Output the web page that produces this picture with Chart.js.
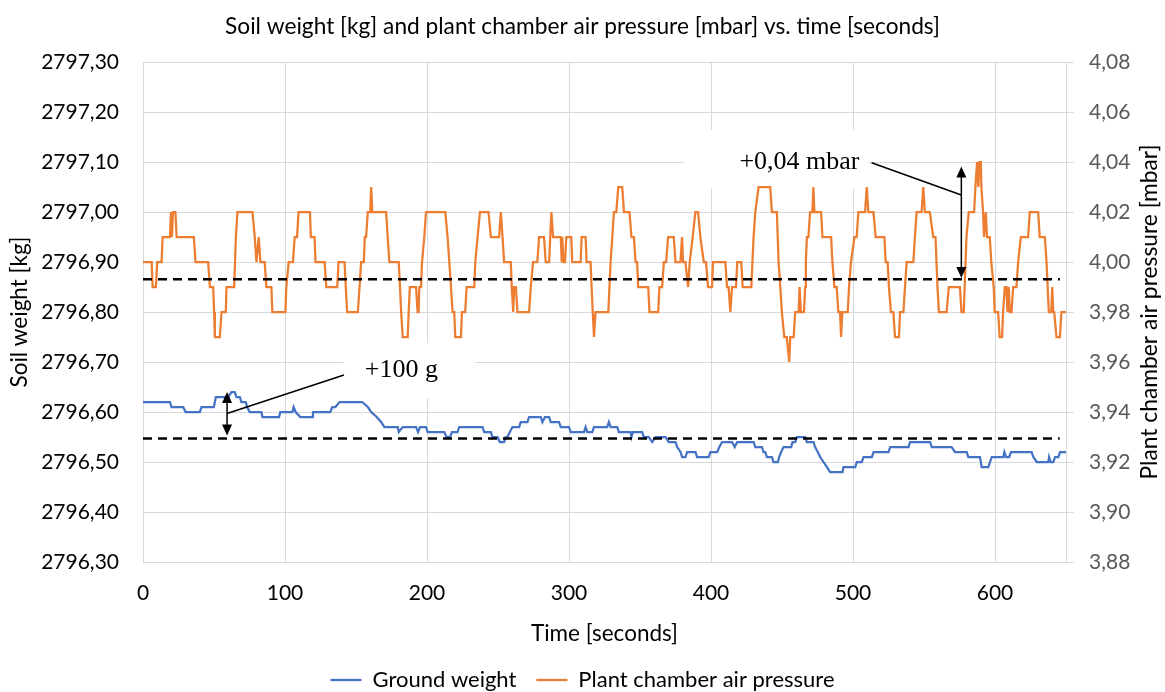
<!DOCTYPE html>
<html>
<head>
<meta charset="utf-8">
<script src="https://cdn.jsdelivr.net/npm/chart.js@4"></script>
<style>
html, body { margin: 0; padding: 0; background: #fff; }
</style>
</head>
<body>
<canvas id="chart" width="1165" height="692"></canvas>
<script>
// readings as [time in seconds, value]
var weightReadings = [
	[0,2796.62],[19,2796.62],[20.1,2796.61],[28.3,2796.61],[30,2796.60],[40,2796.60],[41.2,2796.61],[49.9,2796.61],
	[51.3,2796.63],[56.4,2796.63],[60,2796.63],[62.3,2796.64],[64.6,2796.64],[65.8,2796.63],[68.2,2796.63],[69.3,2796.62],
	[72.4,2796.62],[73.3,2796.61],[75.2,2796.60],[83.4,2796.60],[84.1,2796.59],[95.8,2796.59],[96.7,2796.60],[105.2,2796.60],
	[106.1,2796.61],[107.5,2796.60],[110.8,2796.59],[119.2,2796.59],[119.7,2796.60],[131.9,2796.60],[133.3,2796.61],[135.5,2796.61],
	[138.4,2796.62],[154.4,2796.62],[158.3,2796.61],[160.7,2796.60],[164.6,2796.59],[167.7,2796.58],[170,2796.57],[179.4,2796.57],
	[180.1,2796.56],[182.9,2796.57],[192.3,2796.57],[193.7,2796.56],[195.1,2796.57],[199.3,2796.57],[200.5,2796.56],[212.2,2796.56],
	[213.8,2796.55],[216.2,2796.55],[217.6,2796.56],[221.5,2796.56],[222.7,2796.57],[239.1,2796.57],[240.3,2796.56],[245,2796.56],
	[246.1,2796.55],[249.7,2796.55],[251.3,2796.54],[254.3,2796.54],[255.5,2796.55],[256.7,2796.55],[258.3,2796.56],[260.2,2796.57],
	[264.9,2796.57],[266,2796.58],[270.7,2796.58],[271.9,2796.59],[280.1,2796.59],[281.3,2796.58],[283.1,2796.59],[286,2796.59],
	[287.1,2796.58],[293,2796.58],[294.2,2796.57],[300,2796.57],[301.2,2796.56],[310.6,2796.56],[311.7,2796.57],[312.9,2796.56],
	[316.4,2796.56],[317.6,2796.57],[326.9,2796.57],[328.1,2796.58],[329.3,2796.57],[334,2796.57],[335.1,2796.56],[343.4,2796.56],
	[344,2796.55],[345,2796.56],[351.5,2796.56],[352.7,2796.55],[356.2,2796.55],[358.6,2796.54],[360.9,2796.55],[368,2796.55],
	[370.3,2796.54],[375,2796.54],[376.2,2796.53],[378.5,2796.52],[379.7,2796.51],[382,2796.51],[383.2,2796.52],[389.1,2796.52],
	[390.2,2796.51],[398.4,2796.51],[399.6,2796.52],[404.3,2796.52],[405.9,2796.53],[407.8,2796.54],[414.8,2796.54],[416.7,2796.53],
	[418.4,2796.54],[430,2796.54],[431.2,2796.53],[435.9,2796.53],[437,2796.52],[438.2,2796.52],[439.4,2796.51],[442.9,2796.51],
	[444,2796.50],[447.1,2796.50],[448,2796.51],[449.4,2796.52],[451.1,2796.53],[456.5,2796.53],[457.4,2796.54],[459.3,2796.54],
	[460.5,2796.55],[466.3,2796.55],[467.5,2796.54],[472.2,2796.54],[473.3,2796.53],[475.2,2796.52],[476.9,2796.51],[479.2,2796.50],
	[481.6,2796.49],[483.9,2796.48],[492.6,2796.48],[493.3,2796.49],[501.6,2796.49],[502.7,2796.50],[506.2,2796.50],[507.4,2796.51],
	[513.3,2796.51],[514.5,2796.52],[525,2796.52],[526.2,2796.53],[539.1,2796.53],[540.2,2796.54],[554.3,2796.54],[555.5,2796.53],
	[569.5,2796.53],[571.9,2796.52],[580.1,2796.52],[581.2,2796.51],[589.4,2796.51],[590.6,2796.49],[595.3,2796.49],[596.5,2796.50],
	[597.7,2796.51],[605.9,2796.51],[606.6,2796.52],[607.8,2796.51],[610,2796.51],[611.3,2796.52],[625.8,2796.52],[627,2796.51],
	[629.4,2796.50],[637.6,2796.50],[638.1,2796.51],[639.2,2796.50],[641.1,2796.50],[642.3,2796.51],[644.6,2796.51],[645.8,2796.52],
	[650,2796.52]
];

var pressureReadings = [
	[0,4.00],[6.1,4.00],[6.8,3.99],[9.1,3.99],[10,4.00],[13.1,4.00],[13.8,4.01],[19,4.01],[19.7,4.02],[20.4,4.01],[21.1,4.02],
	[22.8,4.02],[23.7,4.01],[35.8,4.01],[37,4.00],[45.9,4.00],[47.1,3.99],[49.4,3.99],[50.1,3.98],[50.6,3.97],[54.1,3.97],
	[55.3,3.98],[58.3,3.98],[58.8,3.99],[64.2,3.99],[65.4,4.01],[66.5,4.02],[77.1,4.02],[78.7,4.01],[79.9,4.00],[81.5,4.01],
	[82.7,4.00],[85.7,4.00],[86.9,3.99],[90.4,3.99],[91.1,3.98],[100.3,3.98],[100.9,3.99],[102.6,4.00],[105.6,4.00],[106.8,4.01],
	[108.5,4.01],[109.5,4.02],[117.6,4.02],[118.2,4.01],[120.8,4.01],[121.5,4.00],[127.9,4.00],[129.1,3.99],[136.8,3.99],[137.7,4.00],
	[141.9,4.00],[142.8,3.99],[143.8,3.98],[151.3,3.98],[152.5,3.99],[153.6,4.00],[155.5,4.00],[156.2,4.01],[157.1,4.01],[158.3,4.02],
	[160,4.02],[160.7,4.03],[161.5,4.02],[171.2,4.02],[172.3,4.01],[173.5,4.00],[180.1,4.00],[181,3.99],[181.8,3.98],[182.9,3.97],
	[186.4,3.97],[187.1,3.98],[187.9,3.99],[192.3,3.99],[193.4,3.98],[194.1,3.98],[194.6,3.99],[195.8,3.99],[196.5,4.00],[198.1,4.01],
	[199.3,4.02],[212.9,4.02],[214.5,4.01],[215.7,4.00],[216.9,3.99],[218,3.98],[219.2,3.98],[219.9,3.97],[223.9,3.97],[224.6,3.98],
	[226.9,3.98],[227.9,3.99],[233.3,3.99],[234,4.00],[235.6,4.01],[237.3,4.02],[243.3,4.02],[245,4.01],[250.8,4.01],[252,4.02],
	[253.2,4.01],[254.3,4.00],[259,4.00],[259.7,3.99],[260.7,3.98],[261.4,3.99],[262.6,3.99],[263.7,3.98],[271.9,3.98],[273.1,3.99],
	[274.7,4.00],[277.7,4.00],[278.9,4.01],[282.4,4.01],[283.6,4.00],[286,4.00],[287.6,4.02],[288.8,4.01],[294.2,4.01],[294.9,4.00],
	[295.3,4.01],[296,4.00],[297.2,4.00],[298.1,4.01],[301.6,4.01],[302.3,4.00],[308.2,4.00],[308.9,4.01],[311.7,4.01],[312.4,4.00],
	[315.2,4.00],[315.9,3.99],[317.6,3.97],[318.7,3.98],[327.7,3.98],[329.3,4.00],[330.5,4.01],[331.6,4.02],[333.3,4.02],[334.7,4.03],
	[337.5,4.03],[338.7,4.02],[342.6,4.02],[344,4.01],[345.7,4.01],[346.9,4.00],[348,4.00],[348.7,3.99],[355.8,3.99],[356.7,3.98],
	[362.8,3.98],[363.7,3.99],[365.6,3.99],[366.8,4.00],[368.4,4.00],[369.8,4.01],[373.8,4.01],[375,4.00],[378.5,4.00],[379.6,4.01],
	[380.3,4.00],[382,4.00],[383.9,3.99],[385,4.00],[387.1,4.01],[389,4.02],[390.9,4.02],[392.5,4.01],[394.9,4.00],[396.5,4.00],
	[397.9,3.99],[400.7,3.99],[401.4,4.00],[410.1,4.00],[411.3,3.99],[412.4,3.99],[413.6,3.98],[414.8,3.99],[417.6,3.99],[418.5,4.00],
	[421.3,4.00],[422.3,3.99],[428.4,3.99],[430,4.01],[431.2,4.02],[433.5,4.03],[441.7,4.03],[442.9,4.02],[446.4,4.02],[447.6,4.00],
	[448.8,3.99],[449.9,3.98],[451.6,3.97],[453.4,3.97],[455.1,3.96],[455.8,3.97],[458.2,3.97],[459.3,3.98],[461.7,3.98],[462.4,3.99],
	[463.3,3.98],[465.5,3.98],[466.3,3.99],[466.8,4.00],[467.5,4.01],[468.6,4.01],[469.8,4.02],[471.4,4.02],[472.1,4.03],[472.8,4.02],
	[477.5,4.02],[478.5,4.01],[484.6,4.01],[485.5,4.00],[486.9,3.99],[488.5,3.99],[489.7,3.98],[490.9,3.98],[491.6,3.97],[492.5,3.98],
	[496.3,3.98],[497.2,3.99],[498.6,4.00],[501,4.01],[502.6,4.01],[503.8,4.02],[508.5,4.02],[509.7,4.03],[510.8,4.02],[514.4,4.02],
	[516,4.01],[522.1,4.01],[523,4.00],[524.4,4.00],[525.3,3.99],[526.7,3.98],[528.4,3.98],[529.6,3.97],[532.4,3.97],[533.1,3.98],
	[535.5,3.98],[536.6,3.99],[537.8,4.00],[542.5,4.00],[543.6,4.01],[544.8,4.02],[548.3,4.02],[549.5,4.03],[550.6,4.02],[554.1,4.02],
	[556.5,4.01],[558.1,4.01],[558.8,4.00],[559.5,3.99],[560.5,3.98],[565.9,3.98],[567.5,3.99],[575.3,3.99],[576.4,3.98],[578,3.98],
	[579.9,4.01],[581.5,4.02],[585.3,4.02],[586.2,4.03],[587.4,4.04],[588.3,4.03],[589,4.04],[590,4.04],[590.4,4.03],[591.6,4.02],
	[592.3,4.01],[593.5,4.02],[594.4,4.01],[596.3,4.01],[597.4,4.00],[599.1,3.99],[599.8,3.98],[602.2,3.98],[603.3,3.97],[605,3.97],
	[605.7,3.98],[606.9,3.99],[608,3.99],[608.8,3.98],[609.7,3.99],[610.4,3.98],[611.6,3.98],[612.8,3.99],[615.1,3.99],[616.3,4.00],
	[618.2,4.01],[623.3,4.01],[624.5,4.02],[630.4,4.02],[631.5,4.01],[635.1,4.01],[636.3,4.00],[637.9,3.98],[639.6,3.98],[640.3,3.99],
	[641,3.98],[641.7,3.98],[643.3,3.97],[645.7,3.97],[646.8,3.98],[650,3.98]
];

// dashed reference levels [start time, end time, level]
var weightBaseline = [0, 645.5, 2796.547];
var pressureBaseline = [0, 645.7, 3.9931];

var seriesNames = ['Ground weight', 'Plant chamber air pressure'];
var rightAxisTitle = 'Plant chamber air pressure [mbar]';

// callouts, all in data units of the x axis and of the named y axis
var callouts = [
	{
		axis: 'y', text: '+100 g',
		arrowX: 59.2, arrowFrom: 2796.553, arrowTo: 2796.64,
		leader: [59.2, 2796.597, 141.5, 2796.674],
		box: [141.2, 234, 2796.738, 2796.628],
		textAt: [182, 2796.684]
	},
	{
		axis: 'y1', text: '+0,04 mbar',
		arrowX: 576.3, arrowFrom: 3.9936, arrowTo: 4.0382,
		leader: [576.3, 4.0268, 513.1, 4.0397],
		box: [380.8, 510.8, 4.0528, 4.0296],
		textAt: [462.3, 4.04]
	}
];

function toPoints(rows) {
	return rows.map(function(r) { return {x: r[0], y: r[1]}; });
}

function arrowHead(ctx, x, tipY, dir) {
	ctx.beginPath();
	ctx.moveTo(x, tipY);
	ctx.lineTo(x - 5, tipY - dir * 11);
	ctx.lineTo(x + 5, tipY - dir * 11);
	ctx.closePath();
	ctx.fill();
}

var font = 'Lato';
var gridColor = '#d9d9d9';

var calloutPlugin = {
	id: 'callouts',
	beforeDatasetsDraw: function(chart) {
		var ctx = chart.ctx, xs = chart.scales.x;
		ctx.save();
		ctx.fillStyle = '#fff';
		callouts.forEach(function(c) {
			var ys = chart.scales[c.axis];
			var x0 = xs.getPixelForValue(c.box[0]), x1 = xs.getPixelForValue(c.box[1]);
			var y0 = ys.getPixelForValue(c.box[2]), y1 = ys.getPixelForValue(c.box[3]);
			ctx.fillRect(x0, y0, x1 - x0, y1 - y0);
		});
		ctx.restore();
	},
	afterDatasetsDraw: function(chart) {
		var ctx = chart.ctx, xs = chart.scales.x;
		ctx.save();
		ctx.strokeStyle = '#000';
		ctx.fillStyle = '#000';
		ctx.lineWidth = 1.5;
		callouts.forEach(function(c) {
			var ys = chart.scales[c.axis];
			var ax = xs.getPixelForValue(c.arrowX);
			var top = ys.getPixelForValue(c.arrowTo);
			var bottom = ys.getPixelForValue(c.arrowFrom);
			ctx.beginPath();
			ctx.moveTo(ax, top + 10);
			ctx.lineTo(ax, bottom - 10);
			ctx.stroke();
			arrowHead(ctx, ax, top, -1);
			arrowHead(ctx, ax, bottom, 1);

			ctx.beginPath();
			ctx.moveTo(xs.getPixelForValue(c.leader[0]), ys.getPixelForValue(c.leader[1]));
			ctx.lineTo(xs.getPixelForValue(c.leader[2]), ys.getPixelForValue(c.leader[3]));
			ctx.stroke();

			ctx.font = '26px "Liberation Serif"';
			ctx.textAlign = 'center';
			ctx.textBaseline = 'middle';
			ctx.fillText(c.text, xs.getPixelForValue(c.textAt[0]), ys.getPixelForValue(c.textAt[1]));
		});
		ctx.restore();
	},
	afterDraw: function(chart) {
		// right axis title reads bottom to top, like the left one
		var ctx = chart.ctx, s = chart.scales.y1, area = chart.chartArea;
		ctx.save();
		ctx.translate(s.right - 15, (area.top + area.bottom) / 2);
		ctx.rotate(-Math.PI / 2);
		ctx.font = '22.8px ' + font;
		ctx.fillStyle = '#000';
		ctx.textAlign = 'center';
		ctx.textBaseline = 'middle';
		ctx.fillText(rightAxisTitle, 0, 0);
		ctx.restore();
	}
};

var ctx = document.getElementById('chart');
var chart = new Chart(ctx, {
	type: 'line',
	data: {
		datasets: [
			{
				label: 'avg weight',
				data: [{x: weightBaseline[0], y: weightBaseline[2]}, {x: weightBaseline[1], y: weightBaseline[2]}],
				yAxisID: 'y',
				borderColor: '#000',
				borderWidth: 2.5,
				borderDash: [9, 6],
				pointRadius: 0,
				order: 0
			},
			{
				label: 'avg pressure',
				data: [{x: pressureBaseline[0], y: pressureBaseline[2]}, {x: pressureBaseline[1], y: pressureBaseline[2]}],
				yAxisID: 'y1',
				borderColor: '#000',
				borderWidth: 2.5,
				borderDash: [9, 6],
				pointRadius: 0,
				order: 0
			},
			{
				label: seriesNames[0],
				data: toPoints(weightReadings),
				yAxisID: 'y',
				borderColor: '#4472C4',
				backgroundColor: '#4472C4',
				borderWidth: 2.25,
				pointRadius: 0,
				tension: 0,
				order: 1
			},
			{
				label: seriesNames[1],
				data: toPoints(pressureReadings),
				yAxisID: 'y1',
				borderColor: '#ED7D31',
				backgroundColor: '#ED7D31',
				borderWidth: 2.25,
				pointRadius: 0,
				tension: 0,
				order: 2
			}
		]
	},
	options: {
		responsive: false,
		animation: false,
		parsing: false,
		layout: { padding: { left: 0, right: 0, top: 0, bottom: -9 } },
		plugins: {
			tooltip: { enabled: false },
			title: {
				display: true,
				text: 'Soil weight [kg] and plant chamber air pressure [mbar] vs. time [seconds]',
				color: '#000',
				font: { family: font, size: 22.7, weight: 'normal' },
				padding: { top: 13.4, bottom: 21.4 }
			},
			legend: {
				position: 'bottom',
				labels: {
					filter: function(item) { return seriesNames.indexOf(item.text) >= 0; },
					color: '#000',
					font: { family: font, size: 22 },
					usePointStyle: true,
					pointStyle: 'line',
					pointStyleWidth: 31,
					padding: 20
				}
			}
		},
		scales: {
			x: {
				type: 'linear',
				position: 'bottom',
				min: 0,
				max: 650,
				afterFit: function(s) { s.height = 87; },
				ticks: { stepSize: 100, includeBounds: false, padding: 19, color: '#000', font: { family: font, size: 21 } },
				grid: { color: gridColor, drawTicks: false },
				border: { color: gridColor },
				title: { display: true, text: 'Time [seconds]', color: '#000', font: { family: font, size: 22.5 }, padding: { top: 0, bottom: 2 } }
			},
			y: {
				position: 'left',
				min: 2796.30,
				max: 2797.30,
				afterFit: function(s) { s.width = 143; },
				ticks: {
					stepSize: 0.1, padding: 24, color: '#000', font: { family: font, size: 21 },
					callback: function(v) { return v.toFixed(2).replace('.', ','); }
				},
				grid: { color: gridColor, drawTicks: false },
				border: { color: gridColor },
				title: { display: true, text: 'Soil weight [kg]', color: '#000', font: { family: font, size: 22.5 }, padding: { top: 6.5 } }
			},
			y1: {
				position: 'right',
				min: 3.88,
				max: 4.08,
				afterFit: function(s) { s.width = 99; },
				ticks: {
					stepSize: 0.02, padding: 15, color: '#595959', font: { family: font, size: 21 },
					callback: function(v) { return v.toFixed(2).replace('.', ','); }
				},
				grid: { color: gridColor, drawOnChartArea: false, drawTicks: true, tickLength: 8 },
				border: { color: gridColor },
				title: { display: false }
			}
		}
	},
	plugins: [calloutPlugin]
});
</script>
</body>
</html>
